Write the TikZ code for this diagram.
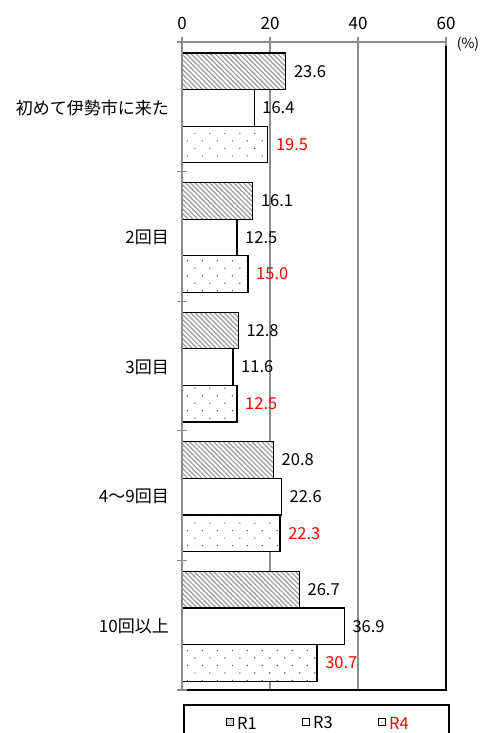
\documentclass[tikz,border=0pt]{standalone}
\usepackage{fontspec}
\setmainfont{Noto Sans CJK JP}
\usetikzlibrary{patterns.meta}
\definecolor{gridgray}{HTML}{8C8C8C}
\definecolor{hatchgray}{HTML}{999999}
\definecolor{vred}{HTML}{FF0000}
\tikzset{
  barbase/.style={draw=black, line width=1.3pt, preaction={fill=white}},
  rone/.style={barbase, pattern={Lines[angle=-45, distance=3.4pt, line width=1.2pt]}, pattern color=hatchgray},
  rthree/.style={barbase, fill=white},
  rfour/.style={barbase, pattern={Dots[distance=10.6pt, radius=0.85pt, angle=45]}, pattern color=black!70},
  vlabel/.style={anchor=west, inner sep=0pt, font=\fontsize{16.5}{16.5}\selectfont},
  clabel/.style={anchor=east, inner sep=0pt, font=\fontsize{17}{17}\selectfont},
  axlabel/.style={inner sep=0pt, font=\fontsize{17}{17}\selectfont},
  gridline/.style={draw=gridgray, line width=1.2pt},
  legsq/.style={draw=black, line width=0.8pt, minimum size=6.5pt, inner sep=0pt},
}
\begin{document}
\begin{tikzpicture}[x=1pt, y=-1pt]
\useasboundingbox (0,0) rectangle (484,733);
% grid
\foreach \v in {20,40} {
  \coordinate (gt\v) at ({182+4.4*\v},42);
  \coordinate (gb\v) at ({182+4.4*\v},690);
  \draw[gridline] (gt\v) -- (gb\v);
}
% plot border right and bottom
\coordinate (pr) at (446,42);
\coordinate (pbr) at (446,690);
\coordinate (pbl) at (182,690);
\draw[black, line width=1.2pt] (pr) -- (pbr) -- (pbl);
% top axis
\coordinate (tal) at (182,42);
\draw[gridline] (tal) -- (pr);
\foreach \v in {0,20,40,60} {
  \coordinate (tk\v) at ({182+4.4*\v},37);
  \coordinate (tkb\v) at ({182+4.4*\v},46);
  \draw[gridline] (tk\v) -- (tkb\v);
  \node[axlabel] (ax\v) at ({182+4.4*\v},23) {\v};
}
\node[inner sep=0pt, font=\fontsize{14}{14}\selectfont] (pct) at (468,44) {(\%)};
% bars
\def\bh{36.6}
\foreach \i/\a/\b/\c/\lab in {0/23.6/16.4/19.5/初めて伊勢市に来た, 1/16.1/12.5/15.0/2回目, 2/12.8/11.6/12.5/3回目, 3/20.8/22.6/22.3/4～9回目, 4/26.7/36.9/30.7/10回以上} {
  \pgfmathsetmacro{\top}{42+129.6*\i+11}
  \draw[rone] (182,\top) rectangle ({182+4.4*\a},{\top+\bh});
  \draw[rthree] (182,{\top+\bh}) rectangle ({182+4.4*\b},{\top+2*\bh});
  \draw[rfour] (182,{\top+2*\bh}) rectangle ({182+4.4*\c},{\top+3*\bh});
  \node[vlabel] (va\i) at ({182+4.4*\a+8},{\top+0.5*\bh}) {\a};
  \node[vlabel] (vb\i) at ({182+4.4*\b+8},{\top+1.5*\bh}) {\b};
  \node[vlabel, text=vred] (vc\i) at ({182+4.4*\c+8},{\top+2.5*\bh}) {\c};
  \node[clabel] (cat\i) at (169,{\top+1.5*\bh}) {\lab};
}
% left axis
\coordinate (lat) at (182,42);
\coordinate (lab) at (182,690);
\draw[gridline, line width=1.6pt] (lat) -- (lab);
\foreach \i in {0,...,5} {
  \coordinate (lk\i) at (177,{42+129.6*\i});
  \coordinate (lkr\i) at (187,{42+129.6*\i});
  \draw[gridline] (lk\i) -- (lkr\i);
}
% legend
\coordinate (lg1) at (184,705);
\coordinate (lg2) at (449,745);
\draw[black, line width=1.2pt] (lg1) rectangle (lg2);
\node[legsq, preaction={fill=white}, pattern={Lines[angle=-45, distance=1.8pt, line width=0.6pt]}, pattern color=hatchgray] (s1) at (230,722) {};
\node[vlabel] (l1) at (237,723) {R1};
\node[legsq, fill=white] (s3) at (306,722) {};
\node[vlabel] (l3) at (313,723) {R3};
\node[legsq, fill=white] (s4) at (382,722) {};
\fill[black!75] (s4.center) circle (0.7pt);
\node[vlabel, text=vred] (l4) at (389,723) {R4};
\end{tikzpicture}
\end{document}
